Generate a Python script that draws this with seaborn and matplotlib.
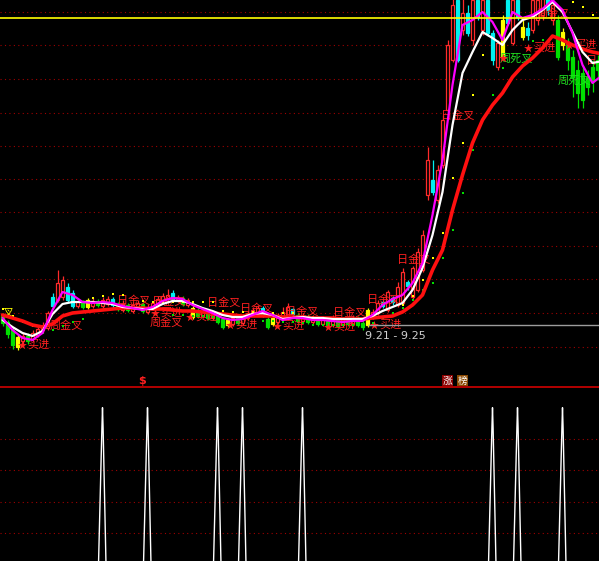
import matplotlib
matplotlib.use("Agg")
import matplotlib.pyplot as plt
import numpy as np
import pandas as pd
import seaborn as sns

# ---------------- candle data (price units) ----------------
opens = [8.4, 7.8, 7.0, 6.3, 5.9, 6.4, 6.1, 6.5, 7.0, 7.2,
         10.3, 10.0, 10.3, 11.3, 10.7, 9.4, 9.8, 10.0, 9.4, 9.9,
         9.4, 9.6, 10.1, 9.6, 9.0, 9.5, 8.9, 9.3, 9.6, 8.8,
         9.2, 9.6, 10.0, 10.2, 10.7, 10.0, 10.2, 9.5, 9.2, 9.0,
         8.4, 8.8, 8.2, 8.5, 8.1, 8.0, 7.6, 8.2, 7.7, 8.2,
         8.6, 8.8, 9.2, 8.1, 8.2, 7.8, 8.2, 8.2, 9.1, 8.5,
         7.9, 8.4, 7.8, 8.2, 7.6, 8.1, 7.5, 8.0, 7.5, 8.1,
         7.6, 8.2, 7.7, 9.0, 8.3, 8.7, 9.8, 9.0, 10.2, 9.5,
         9.7, 11.8, 10.3, 11.0, 13.0, 20.5, 22.0, 20.0, 23.5, 29.0,
         34.0, 40.0, 37.0, 38.7, 36.0, 40.0, 37.0, 40.0, 36.7, 33.3,
         38.0, 40.0, 35.7, 40.0, 37.3, 37.2, 37.0, 38.0, 38.5, 40.5,
         38.0, 38.0, 36.8, 35.5, 34.3, 33.0, 32.7, 32.3, 33.3, 34.0]
closes = [7.7, 6.6, 5.5, 5.3, 6.4, 5.9, 6.7, 7.1, 7.4, 8.7,
          9.4, 11.7, 12.0, 10.0, 9.4, 9.8, 9.3, 9.3, 9.9, 9.5,
          10.0, 10.1, 9.5, 9.1, 9.6, 9.0, 9.5, 9.7, 8.9, 9.3,
          9.7, 10.1, 10.4, 10.5, 10.1, 10.3, 9.6, 10.0, 8.3, 8.4,
          8.9, 8.2, 8.6, 7.8, 7.3, 7.5, 8.2, 7.7, 8.4, 8.7,
          9.0, 9.2, 8.5, 7.3, 7.6, 8.4, 8.8, 9.3, 8.6, 7.9,
          8.4, 7.8, 8.2, 7.6, 8.1, 7.5, 8.1, 7.4, 8.1, 7.6,
          8.2, 7.5, 7.3, 7.5, 8.8, 9.7, 9.4, 10.8, 9.8, 11.3,
          12.8, 11.4, 13.2, 14.8, 16.5, 24.0, 20.8, 23.0, 28.0, 35.5,
          39.5, 34.0, 38.7, 36.7, 40.0, 38.3, 40.0, 36.7, 34.0, 35.7,
          34.3, 37.7, 40.0, 38.3, 36.3, 36.5, 40.0, 40.0, 40.5, 39.0,
          39.5, 34.3, 35.5, 34.0, 32.3, 30.7, 30.0, 31.3, 32.0, 33.0]
highs = [8.7, 8.0, 7.3, 6.6, 6.7, 6.7, 7.0, 7.3, 7.8, 8.9,
         10.7, 13.0, 12.4, 11.7, 11.0, 10.0, 10.0, 10.2, 10.2, 10.1,
         10.3, 10.4, 10.3, 9.8, 10.0, 9.7, 9.8, 10.0, 9.8, 9.6,
         9.9, 10.4, 10.7, 11.1, 11.0, 10.5, 10.4, 10.2, 9.4, 9.2,
         9.1, 9.0, 8.9, 8.7, 8.3, 8.2, 8.4, 8.4, 8.6, 8.9,
         9.3, 9.5, 9.4, 8.3, 8.4, 8.7, 9.3, 9.7, 9.2, 8.7,
         8.7, 8.6, 8.5, 8.4, 8.4, 8.3, 8.5, 8.2, 8.3, 8.3,
         8.5, 8.4, 8.0, 9.2, 9.1, 10.0, 10.0, 11.0, 10.4, 11.8,
         13.2, 12.0, 13.4, 15.2, 17.0, 25.3, 24.0, 23.5, 28.5, 36.0,
         42.0, 43.0, 41.0, 39.5, 42.0, 42.0, 42.0, 41.5, 37.0, 36.0,
         38.5, 41.5, 42.0, 41.0, 38.0, 37.8, 41.0, 41.5, 42.0, 41.5,
         41.0, 38.5, 37.2, 36.2, 35.0, 34.0, 33.5, 33.0, 34.0, 34.5]
lows = [7.4, 6.2, 5.1, 5.0, 5.6, 5.6, 5.8, 6.3, 6.7, 7.0,
        9.1, 9.8, 10.0, 9.8, 9.2, 9.2, 9.1, 9.1, 9.2, 9.3,
        9.2, 9.4, 9.3, 8.9, 8.8, 8.8, 8.7, 9.1, 8.7, 8.6,
        9.0, 9.4, 9.8, 10.0, 9.9, 9.8, 9.4, 9.3, 8.1, 8.2,
        8.2, 8.0, 8.0, 7.6, 7.1, 7.3, 7.4, 7.5, 7.5, 8.0,
        8.4, 8.6, 8.3, 7.1, 7.4, 7.6, 8.0, 8.0, 8.4, 7.7,
        7.7, 7.6, 7.6, 7.4, 7.4, 7.3, 7.3, 7.2, 7.3, 7.4,
        7.4, 7.3, 7.0, 7.3, 8.1, 8.5, 9.2, 8.8, 9.5, 9.3,
        9.5, 11.0, 10.1, 10.8, 12.8, 20.0, 20.5, 19.7, 23.2, 28.8,
        33.8, 33.8, 36.5, 36.4, 35.5, 38.0, 36.5, 36.4, 33.5, 33.0,
        34.0, 37.5, 35.5, 38.0, 36.0, 36.0, 36.7, 37.5, 38.0, 38.5,
        37.5, 34.0, 35.0, 33.0, 30.3, 29.2, 29.2, 30.5, 30.8, 32.0]
# candle colour class: r=up, c=down, g=weak(green), y=yellow signal
kinds = list("gggyrgrrrr" "crrccrgyrg" "rrcgrgrrgr" "rrrrcrgryg"
             "rgrggyrgrr" "rrcgyrrrcg" "rgrgrgrgrg" "rggyrrcrcr"
             "rcrrrrcrrr" "rcrcrcrccr" "ycrcycrrrc" "rgyggggggg")

# ---------------- indicator lines (sampled every 2 bars) ----------------
white_ma = [8.0, 7.3, 6.7, 6.4, 6.9, 8.6, 9.6, 9.8, 9.8, 9.8,
            9.7, 9.6, 9.3, 9.2, 9.1, 9.1, 9.6, 9.9, 9.9, 9.6,
            9.2, 8.9, 8.5, 8.3, 8.3, 8.6, 8.7, 8.5, 8.1, 8.2,
            8.3, 8.2, 8.2, 8.1, 8.1, 8.1, 8.1, 8.4, 8.9, 9.3,
            9.7, 11.0, 13.2, 16.5, 20.8, 27.5, 32.7, 34.8, 36.8, 36.2,
            35.5, 37.0, 38.0, 38.3, 39.0, 39.8, 38.8, 36.8, 34.8, 33.7, 33.9]
magenta_ma = [8.2, 7.0, 6.2, 6.0, 6.7, 9.0, 10.8, 10.5, 9.8, 9.7,
              9.8, 9.7, 9.4, 9.2, 9.0, 9.3, 9.9, 10.2, 10.1, 9.5,
              9.1, 8.7, 8.2, 8.0, 8.1, 8.5, 8.9, 8.5, 8.0, 8.2,
              8.2, 8.0, 8.0, 7.9, 7.8, 7.9, 7.9, 8.5, 9.5, 10.1,
              10.5, 11.7, 13.7, 18.5, 24.0, 31.5, 37.5, 38.0, 38.8, 37.8,
              36.0, 38.8, 38.2, 38.5, 39.1, 40.0, 39.0, 36.7, 33.5, 31.7, 32.5]
red_ma = [8.5, 8.2, 7.9, 7.5, 7.3, 7.6, 8.4, 8.7, 8.8, 8.9,
          9.0, 9.1, 9.2, 9.2, 9.2, 9.1, 9.1, 9.0, 8.9, 8.9,
          8.8, 8.7, 8.6, 8.5, 8.4, 8.4, 8.4, 8.4, 8.3, 8.3,
          8.2, 8.2, 8.2, 8.2, 8.1, 8.1, 8.1, 8.2, 8.3, 8.4,
          8.8, 9.5, 10.5, 13.0, 15.0, 19.0, 22.5, 25.7, 28.0, 29.5,
          30.7, 32.3, 33.4, 34.2, 35.2, 36.4, 36.0, 35.5, 35.1, 34.8, 34.6]
nan = np.nan
yellow_dots = [9.1, 8.4, 7.8, 7.4, nan, nan, nan, nan, nan, 10.2,
               10.4, 10.6, 10.5, nan, 9.9, 9.8, 9.8, 9.8, 9.8, 9.8,
               9.8, 9.8, 8.9, 8.8, 8.8, 8.8, 8.7, 8.7, 8.7, 8.7,
               8.3, 8.3, nan, nan, nan, nan, nan, nan, nan, nan,
               9.5, 10.4, 12.0, 14.2, 16.7, 22.2, 25.7, 30.5, 34.5, nan,
               nan, nan, nan, nan, nan, nan, nan, 39.8, 39.3, 38.5, 37.5]
green_dots = [nan, nan, nan, nan, 6.7, 7.0, 7.4, 7.8, 8.1, nan,
              nan, nan, nan, nan, nan, nan, nan, 8.5, 8.5, 8.4,
              8.4, 8.3, nan, nan, nan, nan, 7.9, 7.9, 7.8, 7.8,
              7.7, 7.5, 7.5, 7.5, 7.5, 7.5, 7.5, 7.7, 8.2, 8.7,
              9.2, 10.0, 11.0, 11.7, 14.2, 17.0, 20.7, 25.0, 28.0, 30.5,
              33.2, nan, nan, 35.9, 36.0, nan, nan, nan, nan, nan, nan]

# ---------------- signal labels ----------------
label_text = ["叉", "周金叉", "日金叉", "周金叉", "日金叉", "日金叉", "日金叉",
              "日金叉", "日金叉", "日金叉", "日金叉", "日金叉", "周金叉",
              "周死叉", "周死叉", "日"]
label_x = [0.1, 9.5, 22.9, 29.5, 29.9, 40.9, 47.5, 56.5, 66.1, 72.9,
           78.9, 87.7, 106.9, 99.5, 111.1, 116.8]
label_y = [8.7, 7.4, 9.9, 7.7, 9.8, 9.7, 9.1, 8.8, 8.7, 10.0,
           14.0, 28.4, 38.6, 34.1, 31.9, 33.9]
label_kind = ["y", "r", "r", "r", "r", "r", "r", "r", "r", "r",
              "r", "r", "r", "g", "g", "r"]
buy_x = [3.9, 30.5, 37.5, 45.5, 54.9, 65.1, 74.3, 105.1, 113.3, 100.1]
buy_y = [5.5, 8.7, 8.3, 7.5, 7.4, 7.3, 7.5, 35.2, 35.5, 34.2]
buy_has_text = [1, 1, 1, 1, 1, 1, 1, 1, 1, 0]

yellow_level = 38.2
last_price = 7.5
last_start = 73
range_label = "9.21 - 9.25"
grid_levels = [5.3, 8.7, 12.1, 15.4, 18.8, 22.1, 25.4, 28.7, 32.1, 35.5, 38.8]
dollar_bar = 28
board_bars = [89, 92]
board_text = ["涨", "榜"]
board_colors = ["#8a0000", "#8a4800"]

spike_bars = [20, 29, 43, 48, 60, 98, 103, 112]
spike_vals = [100, 100, 100, 100, 100, 100, 100, 100]
sub_grid = [20, 40, 60, 80]

# ---------------- drawing ----------------
sns.set_theme(style="dark", rc={"axes.facecolor": "black",
                                "figure.facecolor": "black"})
plt.rcParams['font.family'] = ['Noto Sans CJK SC', 'DejaVu Sans']

colmap = {"r": "#ff2a2a", "c": "#00f0f0", "g": "#00e000", "y": "#ffff00"}
labcol = {"r": "#ff2020", "g": "#20e020", "y": "#ffff00"}

fig = plt.figure(figsize=(5.99, 5.61), dpi=100)
split = (561 - 387) / 561
ax = fig.add_axes([0, split, 1, 1 - split])
ax2 = fig.add_axes([0, 0, 1, split])

n = len(closes)
idx = np.arange(n)
df = pd.DataFrame({"i": idx, "o": opens, "c": closes, "h": highs,
                   "l": lows, "k": kinds})
df["col"] = df["k"].map(colmap)
df["bot"] = df[["o", "c"]].min(axis=1)
df["ht"] = (df["o"] - df["c"]).abs().clip(lower=0.12)
df["face"] = np.where(df["k"] == "r", "black", df["col"])

ax.vlines(df["i"], df["l"], df["h"], colors=df["col"], lw=0.9, zorder=2)
ax.bar(df["i"], df["ht"], bottom=df["bot"], width=0.62, color=df["face"],
       edgecolor=df["col"], linewidth=0.9, zorder=3)

line_idx = np.arange(0, 121, 2)
sns.lineplot(x=line_idx, y=red_ma, color="#ff1010", lw=2.6, ax=ax, zorder=6)
sns.lineplot(x=line_idx, y=white_ma, color="white", lw=1.6, ax=ax, zorder=7)
sns.lineplot(x=line_idx, y=magenta_ma, color="#ff00ff", lw=1.6, ax=ax, zorder=8)
sns.scatterplot(x=line_idx, y=yellow_dots, color="#ffff00", marker="s", s=4,
                linewidth=0, ax=ax, zorder=5)
sns.scatterplot(x=line_idx, y=green_dots, color="#00e000", marker="s", s=4,
                linewidth=0, ax=ax, zorder=5)

for t, x, y, k in zip(label_text, label_x, label_y, label_kind):
    ax.text(x, y, t, color=labcol[k], fontsize=8, ha="left", va="center",
            zorder=4, clip_on=True)
for x, y, has in zip(buy_x, buy_y, buy_has_text):
    ax.scatter([x], [y], marker="*", s=45, color="#ff2020", linewidths=0,
               zorder=4)
    if has:
        ax.text(x + 1.0, y, "买进", color="#ff2020", fontsize=8, ha="left",
                va="center", zorder=4, clip_on=True)

ax.axhline(yellow_level, color="#ffff00", lw=1.2, zorder=9)
ax.hlines(last_price, last_start, 125, color="#9c9c9c", lw=1.0, zorder=9)
ax.text(last_start - 0.5, last_price - 1.1, range_label, color="#d0d0d0",
        fontsize=8, ha="left", va="center", family="DejaVu Sans", zorder=9)

ax.text(dollar_bar, 1.95, "$", color="#ff2020", fontsize=8, fontweight="bold",
        ha="center", va="center", family="DejaVu Sans", zorder=9)
for b, t, c in zip(board_bars, board_text, board_colors):
    ax.text(b, 1.95, t, color="white", fontsize=7, ha="center", va="center",
            zorder=9, bbox=dict(boxstyle="square,pad=0.1", fc=c, ec="none"))

ax.set_xlim(-0.5, 119.3)
ax.set_ylim(1.3, 40.0)
ax.set_yticks(grid_levels)
ax.set_xticks([])
ax.tick_params(left=False, bottom=False, labelleft=False, labelbottom=False)
ax.grid(axis="y", color="#a00000", linestyle=(0, (1, 3)), lw=0.8)
ax.grid(axis="x", visible=False)
ax.set_xlabel("")
ax.set_ylabel("")
for s in ax.spines.values():
    s.set_visible(False)

# ---------------- lower panel ----------------
for b, v in zip(spike_bars, spike_vals):
    xs = [b - 0.8, b - 0.12, b, b + 0.12, b + 0.7]
    ys = [0, v * 0.87, v, v * 0.87, 0]
    sns.lineplot(x=xs, y=ys, color="white", lw=1.0, ax=ax2, sort=False,
                 estimator=None)
ax2.set_xlim(-0.5, 119.3)
ax2.set_ylim(2.1, 113.2)
ax2.set_yticks(sub_grid)
ax2.set_xticks([])
ax2.tick_params(left=False, bottom=False, labelleft=False, labelbottom=False)
ax2.grid(axis="y", color="#a00000", linestyle=(0, (1, 3)), lw=0.8)
ax2.grid(axis="x", visible=False)
ax2.set_xlabel("")
ax2.set_ylabel("")
for k, s in ax2.spines.items():
    s.set_visible(k == "top")
ax2.spines["top"].set_color("#d00000")
ax2.spines["top"].set_linewidth(1.2)

fig.savefig("out.png", dpi=100, facecolor="black")
